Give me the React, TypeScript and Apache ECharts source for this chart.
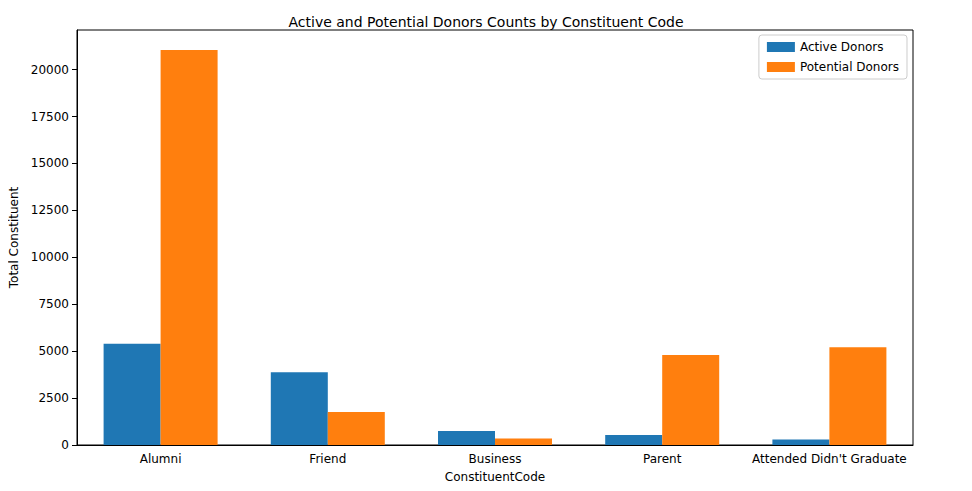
import React, { useEffect, useRef } from 'react';
import * as echarts from 'echarts';

const categories = ['Alumni', 'Friend', 'Business', 'Parent', "Attended Didn't Graduate"];
const activeDonors = [5400, 3880, 740, 530, 290];
const potentialDonors = [21050, 1760, 350, 4790, 5210];

export default function App() {
    const chartRef = useRef<HTMLDivElement>(null);

    useEffect(() => {
        if (!chartRef.current) return;
        const chart = echarts.init(chartRef.current, undefined, { renderer: 'svg' });
        const font = 'DejaVu Sans';
        chart.setOption({
            animation: false,
            textStyle: { fontFamily: font },
            title: {
                text: 'Active and Potential Donors Counts by Constituent Code',
                left: 'center',
                top: 2,
                textStyle: { fontSize: 14, fontWeight: 'normal', color: '#000', fontFamily: font }
            },
            legend: {
                orient: 'vertical',
                right: 57,
                top: 27,
                icon: 'rect',
                itemWidth: 28,
                itemHeight: 10,
                itemGap: 8,
                borderColor: '#ccc',
                borderWidth: 1,
                borderRadius: 3,
                padding: [6, 8],
                textStyle: { fontSize: 12, color: '#000' },
                data: ['Active Donors', 'Potential Donors']
            },
            grid: {
                left: 69, right: 51, top: 22, bottom: 38,
                containLabel: false, outerBoundsMode: 'none',
                show: true, borderColor: '#000', borderWidth: 1
            },
            xAxis: {
                type: 'category',
                data: categories,
                name: 'ConstituentCode',
                nameLocation: 'middle',
                nameGap: 26,
                nameTextStyle: { fontSize: 12, color: '#000' },
                axisLine: { lineStyle: { color: '#000' } },
                axisTick: { alignWithLabel: true, lineStyle: { color: '#000' } },
                axisLabel: { fontSize: 12, color: '#000', interval: 0 }
            },
            yAxis: {
                type: 'value',
                min: 0,
                max: 22110,
                interval: 2500,
                name: 'Total Constituent',
                nameLocation: 'middle',
                nameGap: 56,
                nameTextStyle: { fontSize: 12, color: '#000' },
                axisLine: { show: true, lineStyle: { color: '#000' } },
                axisTick: { show: true, lineStyle: { color: '#000' } },
                axisLabel: { fontSize: 12, color: '#000', showMaxLabel: false, formatter: (v: number) => String(v) },
                splitLine: { show: false }
            },
            series: [
                {
                    name: 'Active Donors',
                    type: 'bar',
                    data: activeDonors,
                    barWidth: 57,
                    barGap: '0%',
                    itemStyle: { color: '#1f77b4' }
                },
                {
                    name: 'Potential Donors',
                    type: 'bar',
                    data: potentialDonors,
                    barWidth: 57,
                    itemStyle: { color: '#ff7f0e' }
                }
            ]
        });
        return () => chart.dispose();
    }, []);

    return <div ref={chartRef} style={{ width: 956, height: 475 }} />;
}
